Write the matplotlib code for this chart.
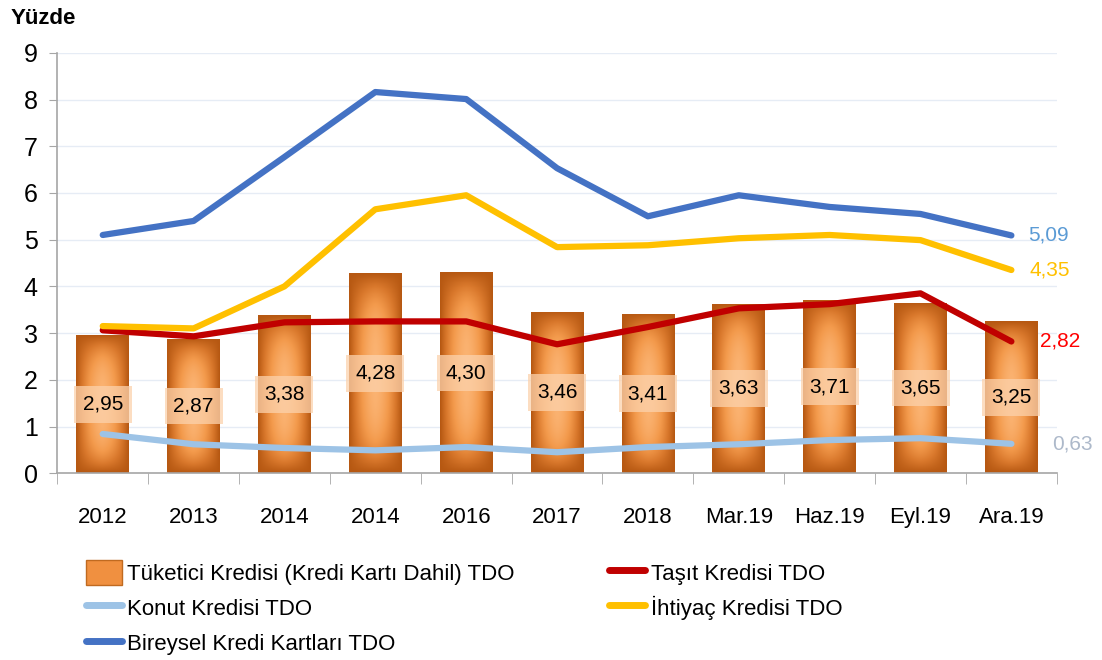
import numpy as np
import matplotlib.pyplot as plt
from matplotlib.patches import Rectangle, Patch
from matplotlib.lines import Line2D
from matplotlib.colors import LinearSegmentedColormap

plt.rcParams['font.family'] = ['Liberation Sans', 'DejaVu Sans']

# data
categories = ["2012", "2013", "2014", "2014", "2016", "2017", "2018",
              "Mar.19", "Haz.19", "Eyl.19", "Ara.19"]
tuketici = [2.95, 2.87, 3.38, 4.28, 4.30, 3.46, 3.41, 3.63, 3.71, 3.65, 3.25]
tasit = [3.06, 2.93, 3.23, 3.25, 3.25, 2.76, 3.13, 3.53, 3.62, 3.85, 2.82]
konut = [0.84, 0.62, 0.54, 0.49, 0.56, 0.45, 0.56, 0.62, 0.71, 0.75, 0.63]
ihtiyac = [3.15, 3.10, 4.00, 5.65, 5.95, 4.84, 4.88, 5.03, 5.10, 4.99, 4.35]
bireysel = [5.10, 5.40, 6.77, 8.16, 8.01, 6.53, 5.50, 5.95, 5.70, 5.55, 5.09]

BAR_W = 0.58
bar_cmap = LinearSegmentedColormap.from_list("bar", ["#fbb372", "#f39a4c", "#d9782c", "#b65812"])

fig = plt.figure(figsize=(11.02, 6.6), dpi=100)
ax = fig.add_axes([0.052, 0.283, 0.907, 0.637])

x = np.arange(len(categories))

# gradient bars (light centre, darker sides, darker top/bottom edge)
u = np.linspace(-1, 1, 60)
v = np.linspace(-1, 1, 160)
U, V = np.meshgrid(u, v)
grad = 1 - (1 - np.abs(U) ** 1.6) * (1 - np.abs(V) ** 3)
for xi, h in zip(x, tuketici):
    rect = Rectangle((xi - BAR_W / 2, 0), BAR_W, h, facecolor='none', edgecolor='none')
    ax.add_patch(rect)
    im = ax.imshow(grad, cmap=bar_cmap, vmin=0, vmax=1, aspect='auto',
                   extent=(xi - BAR_W / 2, xi + BAR_W / 2, 0, h), zorder=2)
    im.set_clip_path(rect)
    ax.text(xi, h / 2, f"{h:.2f}".replace('.', ','), ha='center', va='center',
            fontsize=15, color='black', zorder=5,
            bbox=dict(boxstyle='square,pad=0.42', facecolor='#fcd2ac', edgecolor='none', alpha=0.75))

# lines
series = [
    (konut, '#9dc3e6'),
    (tasit, '#c00000'),
    (ihtiyac, '#ffc000'),
    (bireysel, '#4472c4'),
]
for vals, col in series:
    ax.plot(x, vals, color=col, lw=4.5, solid_capstyle='round',
            solid_joinstyle='round', zorder=4)

# end labels
end_labels = [(bireysel, '#5b9bd5', 0.18), (ihtiyac, '#ffc000', 0.2),
              (tasit, '#ff0000', 0.32), (konut, '#adb9ca', 0.45)]
for vals, col, dx in end_labels:
    ax.text(x[-1] + dx, vals[-1], f"{vals[-1]:.2f}".replace('.', ','), color=col,
            fontsize=15, ha='left', va='center')

ax.set_xlim(-0.5, len(categories) - 0.5)
ax.set_ylim(0, 9)
ax.set_yticks(range(0, 10))
ax.set_xticks(x)
ax.set_xticklabels(categories, fontsize=16)
ax.set_xticks(np.arange(-0.5, len(categories)), minor=True)
ax.tick_params(axis='x', which='major', length=0, pad=24)
ax.tick_params(axis='x', which='minor', length=8, color='#a6a6a6')
ax.tick_params(axis='y', labelsize=18, length=6, color='#a6a6a6', pad=8)
ax.grid(axis='y', color='#e6ecf5', lw=1)
ax.set_axisbelow(True)
for s in ['top', 'right']:
    ax.spines[s].set_visible(False)
for s in ['left', 'bottom']:
    ax.spines[s].set_color('#a6a6a6')
    ax.spines[s].set_linewidth(1.2)

fig.text(0.01, 0.972, "Yüzde", fontsize=16, fontweight='bold', ha='left', va='center')


def lh(col):
    return Line2D([], [], color=col, lw=5, solid_capstyle='round')


left_handles = [Patch(facecolor='#f09040', edgecolor='#c06a20'), lh('#9dc3e6'), lh('#4472c4')]
left_labels = ["Tüketici Kredisi (Kredi Kartı Dahil) TDO", "Konut Kredisi TDO",
               "Bireysel Kredi Kartları TDO"]
right_handles = [lh('#c00000'), lh('#ffc000')]
right_labels = ["Taşıt Kredisi TDO", "İhtiyaç Kredisi TDO"]

leg_kw = dict(loc='upper left', frameon=False, fontsize=16, handlelength=1.6,
              handleheight=1.3, handletextpad=0.25, labelspacing=0.48,
              borderpad=0, borderaxespad=0)
fig.legend(left_handles, left_labels, bbox_to_anchor=(0.078, 0.151), **leg_kw)
fig.legend(right_handles, right_labels, bbox_to_anchor=(0.553, 0.151), **leg_kw)

fig.savefig("out.png", dpi=100)
